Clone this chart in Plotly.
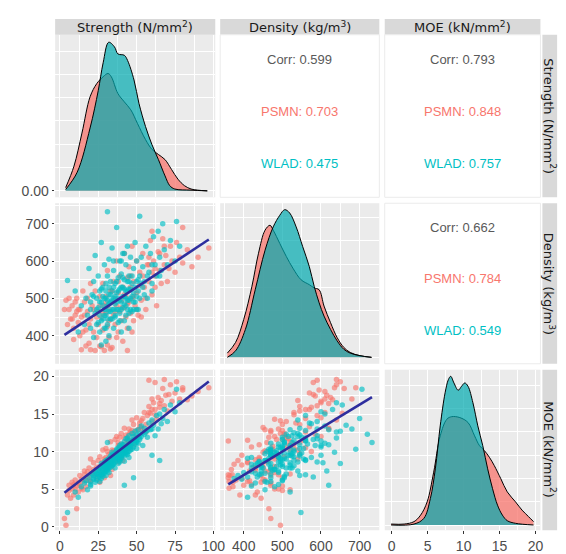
import plotly.graph_objects as go

W, H = 566, 554

# ---------------- data ----------------
psmn_strength = [3, 4, 5, 6, 7, 8, 9, 10, 11, 12,
                 13, 14, 15, 16, 17, 18, 19, 20, 21, 22,
                 23, 24, 25, 25, 26, 27, 27, 28, 28, 29,
                 29, 30, 30, 31, 31, 32, 32, 33, 33, 34,
                 34, 35, 35, 36, 36, 37, 37, 38, 38, 39,
                 39, 40, 40, 41, 41, 42, 42, 43, 43, 44,
                 44, 45, 45, 46, 46, 47, 47, 48, 48, 49,
                 50, 50, 51, 52, 53, 54, 55, 56, 57, 58,
                 59, 60, 61, 62, 63, 64, 65, 66, 67, 68,
                 69, 70, 72, 73, 75, 76, 78, 80, 83, 86,
                 90, 97, 33, 26, 58, 62, 11, 15, 44, 20,
                 60, 80, 68,
                 6, 8, 10, 12, 14, 16, 18, 20, 22, 24,
                 26, 28, 30, 32, 34, 36, 38, 40, 42, 44,
                 46, 48, 50, 52, 54, 56, 58, 60, 62, 65,
                 19, 23, 31, 37, 47, 9, 13, 17, 53, 71]
psmn_density = [470, 495, 430, 470, 445, 480, 420, 455, 500, 435,
                470, 362, 410, 455, 372, 500, 430, 362, 480, 410,
                520, 395, 465, 430, 505, 370, 448, 540, 415, 480,
                360, 460, 505, 425, 575, 470, 395, 520, 445, 490,
                368, 455, 545, 430, 500, 480, 600, 410, 515, 465,
                560, 440, 495, 530, 385, 475, 620, 505, 450, 555,
                420, 490, 585, 460, 530, 500, 640, 440, 545, 480,
                600, 515, 455, 570, 495, 620, 530, 470, 590, 545,
                655, 510, 600, 560, 480, 625, 575, 540, 660, 590,
                615, 545, 640, 600, 570, 650, 610, 595, 630, 585,
                610, 635, 364, 372, 590, 580, 465, 520, 360, 540,
                680, 690, 640,
                500, 445, 490, 470, 450, 490, 465, 445, 470, 450,
                480, 460, 490, 440, 520, 465, 545, 475, 510, 485,
                560, 505, 470, 535, 560, 500, 610, 570, 530, 620,
                380, 360, 375, 395, 410, 390, 400, 415, 450, 580]
psmn_moe = [1.1, 0.2, 4.2, 5.5, 3.8, 5.0, 5.6, 6.2, 5.4, 4.6,
            6.8, 5.1, 6.0, 7.4, 5.3, 6.5, 7.8, 6.0, 7.2, 8.5,
            7.0, 6.4, 8.8, 7.5, 9.3, 6.9, 8.1, 10.2, 7.4, 9.0,
            6.5, 8.7, 10.4, 7.9, 10.0, 9.6, 8.2, 11.3, 8.4, 9.3,
            7.6, 10.1, 9.7, 8.9, 11.6, 9.4, 12.0, 8.6, 10.8, 11.9,
            10.5, 9.2, 12.4, 11.0, 8.8, 10.3, 13.1, 12.2, 9.9, 11.5,
            10.6, 13.0, 12.3, 11.2, 10.4, 12.8, 14.2, 10.9, 13.6, 12.0,
            14.5, 11.7, 12.9, 13.3, 14.1, 13.0, 15.2, 12.6, 14.8, 16.0,
            15.1, 14.0, 16.5, 15.6, 14.3, 17.2, 15.9, 16.8, 18.4, 16.1,
            17.5, 15.4, 18.9, 16.7, 17.8, 19.3, 17.0, 18.2, 16.9, 17.4,
            18.0, 18.5, 6.8, 5.9, 19.5, 19.2, 2.4, 4.9, 11.4, 9.0,
            17.0, 18.5, 19.6,
            4.8, 5.9, 5.0, 5.8, 6.3, 6.9, 7.3, 6.8, 7.6, 7.9,
            8.0, 8.6, 9.2, 9.0, 10.2, 10.0, 11.2, 10.7, 11.8, 11.6,
            12.6, 12.4, 12.8, 13.8, 14.4, 13.6, 15.2, 15.6, 14.9, 16.4,
            6.2, 6.9, 8.3, 9.5, 11.5, 4.2, 5.5, 6.1, 13.2, 17.6]

wlad_strength = [5, 10, 12, 14, 16, 17, 18, 19, 20, 20,
                 21, 22, 22, 23, 23, 24, 24, 25, 25, 26,
                 26, 26, 27, 27, 27, 28, 28, 28, 29, 29,
                 29, 30, 30, 30, 30, 31, 31, 31, 31, 32,
                 32, 32, 32, 33, 33, 33, 34, 34, 34, 35,
                 35, 35, 36, 36, 36, 37, 37, 37, 38, 38,
                 38, 39, 39, 39, 40, 40, 40, 41, 41, 41,
                 42, 42, 42, 43, 43, 43, 44, 44, 44, 45,
                 45, 45, 46, 46, 47, 47, 48, 48, 48, 49,
                 49, 50, 50, 51, 51, 52, 52, 53, 54, 54,
                 55, 56, 57, 58, 59, 60, 60, 61, 62, 63,
                 64, 65, 65, 66, 67, 68, 70, 72, 75, 76,
                 78, 42,
                 24, 26, 27, 28, 29, 29, 30, 30, 31, 31,
                 32, 32, 33, 33, 34, 34, 35, 35, 36, 36,
                 37, 37, 38, 38, 39, 39, 40, 40, 41, 41,
                 42, 42, 43, 43, 44, 44, 45, 45, 46, 46,
                 47, 47, 48, 49, 50, 50, 51, 52, 53, 55,
                 22, 25, 27, 20, 57, 60, 35, 40, 45, 30]
wlad_density = [548, 520, 410, 480, 430, 500, 455, 580, 470, 420,
                510, 395, 545, 460, 615, 430, 500, 475, 560, 410,
                520, 455, 490, 650, 375, 530, 445, 505, 470, 590,
                420, 500, 540, 455, 385, 732, 480, 560, 430, 510,
                465, 605, 400, 490, 545, 445, 520, 470, 635, 500,
                420, 575, 485, 540, 450, 515, 690, 470, 555, 435,
                500, 525, 600, 460, 490, 565, 410, 530, 475, 620,
                505, 550, 440, 520, 590, 480, 545, 640, 495, 560,
                460, 525, 610, 500, 540, 465, 580, 515, 470, 490,
                650, 545, 600, 520, 470, 720, 560, 610, 530, 585,
                545, 640, 500, 570, 620, 540, 520, 665, 590, 560,
                680, 610, 560, 575, 700, 630, 590, 655, 600, 706,
                640, 620,
                470, 490, 440, 480, 500, 455, 520, 470, 495, 445,
                530, 485, 465, 510, 445, 495, 530, 470, 505, 455,
                490, 545, 470, 520, 495, 440, 530, 470, 505, 555,
                485, 525, 455, 500, 520, 470, 545, 495, 470, 525,
                505, 560, 490, 530, 505, 470, 550, 500, 540, 510,
                505, 435, 525, 490, 560, 590, 600, 600, 420, 420]
wlad_moe = [1.9, 4.6, 3.9, 5.3, 5.8, 6.1, 4.9, 6.6, 6.0, 5.4,
            7.0, 6.3, 6.8, 5.9, 7.4, 7.1, 6.2, 7.5, 6.9, 6.6,
            7.8, 6.0, 7.2, 8.4, 6.4, 8.1, 7.0, 6.7, 7.9, 8.6,
            7.3, 8.3, 7.4, 8.8, 6.8, 11.2, 7.6, 8.9, 8.2, 7.8,
            9.1, 8.5, 7.2, 8.6, 9.4, 7.9, 8.2, 9.6, 9.9, 8.9,
            8.3, 9.2, 9.8, 8.6, 7.8, 9.5, 10.3, 10.1, 9.0, 8.4,
            10.5, 9.7, 10.8, 8.8, 9.3, 11.0, 9.1, 10.2, 9.5, 10.9,
            11.3, 9.8, 8.7, 10.6, 11.7, 9.9, 10.4, 11.8, 9.6, 11.5,
            10.0, 12.1, 11.1, 10.7, 12.4, 10.3, 11.6, 12.0, 6.5, 11.0,
            12.7, 12.2, 11.4, 12.9, 11.1, 12.3, 11.8, 13.4, 12.5, 10.8,
            13.1, 12.6, 11.9, 13.8, 12.9, 14.2, 9.5, 13.5, 12.1, 14.8,
            13.0, 15.0, 8.8, 13.7, 14.4, 15.6, 14.0, 16.2, 15.3, 18.3,
            16.5, 5.5,
            7.0, 7.4, 6.9, 7.6, 8.0, 7.1, 8.5, 7.7, 8.2, 7.4,
            8.8, 8.0, 8.3, 9.0, 8.1, 8.7, 9.3, 8.4, 9.1, 8.8,
            9.2, 9.6, 9.4, 9.9, 9.0, 8.6, 10.0, 9.6, 9.8, 10.4,
            10.1, 9.4, 9.7, 10.3, 10.8, 9.9, 10.9, 10.5, 10.2, 11.2,
            11.0, 11.4, 10.6, 11.5, 11.2, 10.4, 11.9, 11.6, 12.0, 12.3,
            6.5, 6.6, 7.8, 5.6, 12.8, 13.0, 9.5, 10.6, 9.2, 7.8]

# kernel density curves (value per unit)
strength_grid_psmn = [3.8, 9.2, 14.4, 19.7, 24.0, 28.2, 31.4, 33.5, 37.8, 42.0, 46.2,
                      50.5, 55.8, 60.0, 64.2, 68.5, 72.7, 76.9, 81.2, 85.4, 89.7, 96.0]
strength_dens_psmn = [0.0007, 0.0053, 0.0124, 0.0202, 0.0230, 0.0245, 0.0252, 0.0245, 0.0209,
                      0.0191, 0.0174, 0.0145, 0.0110, 0.0089, 0.0078, 0.0067, 0.0046, 0.0025,
                      0.0011, 0.0004, 0.00015, 0.0]
strength_grid_wlad = [3.8, 11.3, 19.7, 25.0, 28.2, 31.8, 35.6, 37.8, 42.0, 44.1, 48.3, 51.5,
                      55.8, 60.0, 64.2, 68.5, 71.6, 74.8, 85.4, 96.0]
strength_dens_wlad = [0.0003, 0.0040, 0.0135, 0.0215, 0.0275, 0.0319, 0.0309, 0.0294, 0.0291,
                      0.0280, 0.0238, 0.0188, 0.0138, 0.0099, 0.0067, 0.0032, 0.0011, 0.0004,
                      0.00015, 0.0]

density_grid_psmn = [357.5, 378.9, 400.0, 421.2, 438.2, 455.2, 467.9, 476.3, 493.3, 510.2, 527.2,
                     548.4, 569.7, 582.4, 595.2, 607.9, 624.7, 641.7, 658.8, 675.6, 701.0, 730.8]
density_dens_psmn = [0.00018, 0.00064, 0.00163, 0.00305, 0.00447, 0.00546, 0.00567, 0.00546,
                     0.00489, 0.00433, 0.00383, 0.00333, 0.00312, 0.00298, 0.0029, 0.0022,
                     0.00149, 0.00085, 0.00043, 0.00021, 0.00007, 0.0]
density_grid_wlad = [357.5, 378.9, 404.3, 429.7, 455.2, 476.3, 493.3, 506.1, 518.8, 535.7, 552.7,
                     569.7, 582.4, 595.2, 607.9, 624.7, 641.7, 658.8, 675.6, 701.0, 730.8]
density_dens_wlad = [0.0, 0.00028, 0.0012, 0.0029, 0.0046, 0.0056, 0.0061, 0.00634, 0.0062,
                     0.0056, 0.00475, 0.0039, 0.00305, 0.00234, 0.00177, 0.0012, 0.00071,
                     0.00035, 0.00018, 0.00007, 0.0]

moe_grid_psmn = [-0.09, 1.72, 3.09, 4.01, 4.92, 5.83, 6.74, 7.66, 8.34, 9.47, 10.61, 11.52,
                 12.21, 12.89, 13.58, 14.26, 15.17, 16.07, 17.22, 18.12, 19.04, 19.72]
moe_dens_psmn = [0.001, 0.001, 0.0036, 0.0106, 0.0248, 0.0567, 0.0957, 0.1135, 0.1163, 0.1153,
                 0.110, 0.0957, 0.0851, 0.0798, 0.0727, 0.0638, 0.0497, 0.0355, 0.0248, 0.016,
                 0.0089, 0.0036]
moe_grid_wlad = [-0.09, 3.09, 4.46, 5.37, 6.06, 6.74, 7.42, 7.87, 8.2, 8.65, 9.24, 9.71, 10.16,
                 10.61, 11.29, 11.97, 12.66, 13.34, 14.02, 14.71, 15.39, 16.07, 17.22, 19.72]
moe_dens_wlad = [0.0, 0.001, 0.0071, 0.0284, 0.0603, 0.1064, 0.1419, 0.156, 0.1596, 0.1525,
                 0.1447, 0.1489, 0.1525, 0.1489, 0.1312, 0.1064, 0.0851, 0.0603, 0.039, 0.0213,
                 0.0106, 0.0046, 0.0018, 0.0]

# correlation labels for the upper panels: (S-D, S-M, D-M)
corr_overall = ["0.599", "0.793", "0.662"]
corr_psmn = ["0.703", "0.848", "0.784"]
corr_wlad = ["0.475", "0.757", "0.549"]

# fitted linear trends (intercept, slope)
fit_sd = (393.9, 2.72)
fit_sm = (4.04, 0.1577)
fit_dm = (-5.65, 0.0313)

var_titles = ["Strength (N/mm<sup>2</sup>)", "Density (kg/m<sup>3</sup>)", "MOE (kN/mm<sup>2</sup>)"]
strength_ticks = [0, 25, 50, 75, 100]
strength_minor = [12.5, 37.5, 62.5, 87.5]
density_ticks = [400, 500, 600, 700]
density_minor = [350, 450, 550, 650, 750]
moe_ticks = [0, 5, 10, 15, 20]
moe_minor = [2.5, 7.5, 12.5, 17.5]

C_PSMN = "#F8766D"
C_WLAD = "#00BFC4"
FILL_PSMN = "rgba(248,118,109,0.75)"
FILL_WLAD = "rgba(0,170,175,0.70)"
LINE_BLUE = "#2E2E9E"

# ---------------- layout geometry (pixels) ----------------
cols = [(48, 211), (216, 378), (383.5, 542)]
rows = [(26, 190), (196, 358), (364, 526)]


def dx(c):
    return [c[0] / W, c[1] / W]


def dy(r):
    return [1 - r[1] / H, 1 - r[0] / H]


TICKFONT = dict(family="Liberation Sans, Arial, sans-serif", size=14, color="#4D4D4D")


def axis(domain, rng, major, minor, labels, anchor, ticktext=None):
    d = dict(domain=domain, range=rng, anchor=anchor, tickmode="array", tickvals=major,
             showgrid=True, gridcolor="white", gridwidth=1.1, zeroline=False,
             showticklabels=labels, ticks="outside" if labels else "", ticklen=2.5,
             tickcolor="#333333", tickwidth=1, tickfont=TICKFONT, showline=False,
             minor=dict(tickmode="array", tickvals=minor, showgrid=True,
                        gridcolor="white", gridwidth=0.6, ticks=""))
    if ticktext is not None:
        d["ticktext"] = ticktext
    return d


S_RANGE = [-3.05, 101.2]
D_XRANGE = [339, 751]
D_YRANGE = [324.7, 755]
M_XRANGE = [-0.98, 20.68]
M_YRANGE = [-0.48, 20.91]
sS = 0.01 / 47
DS_RANGE = [-(190 - 183.5) * sS, (183.5 - 26) * sS]
sD = 0.002 / 47
DD_RANGE = [-(358 - 351.5) * sD, (351.5 - 196) * sD]
sM = 0.05 / 47
DM_RANGE = [-(526 - 520.7) * sM, (520.7 - 364) * sM]

fig = go.Figure()


def add_density(xs, ys, fill, xa, ya):
    fig.add_trace(go.Scatter(x=xs, y=ys, mode="lines", fill="tozeroy", fillcolor=fill,
                             line=dict(color="black", width=1, shape="spline"),
                             xaxis=xa, yaxis=ya, hoverinfo="skip"))


add_density(strength_grid_psmn, strength_dens_psmn, FILL_PSMN, "x", "y")
add_density(strength_grid_wlad, strength_dens_wlad, FILL_WLAD, "x", "y")
add_density(density_grid_psmn, density_dens_psmn, FILL_PSMN, "x3", "y3")
add_density(density_grid_wlad, density_dens_wlad, FILL_WLAD, "x3", "y3")
add_density(moe_grid_psmn, moe_dens_psmn, FILL_PSMN, "x6", "y6")
add_density(moe_grid_wlad, moe_dens_wlad, FILL_WLAD, "x6", "y6")

# scatter panels
scatter_specs = [
    ("x2", "y2", psmn_strength, psmn_density, wlad_strength, wlad_density, fit_sd),
    ("x4", "y4", psmn_strength, psmn_moe, wlad_strength, wlad_moe, fit_sm),
    ("x5", "y5", psmn_density, psmn_moe, wlad_density, wlad_moe, fit_dm),
]
for xa, ya, px_, py_, wx_, wy_, fit in scatter_specs:
    fig.add_trace(go.Scatter(x=px_, y=py_, mode="markers", xaxis=xa, yaxis=ya,
                             marker=dict(color=C_PSMN, size=5.5, opacity=0.65, line=dict(width=0)),
                             hoverinfo="skip"))
    fig.add_trace(go.Scatter(x=wx_, y=wy_, mode="markers", xaxis=xa, yaxis=ya,
                             marker=dict(color=C_WLAD, size=5.5, opacity=0.65, line=dict(width=0)),
                             hoverinfo="skip"))
    allx = px_ + wx_
    lx = [min(allx), max(allx)]
    ly = [fit[0] + fit[1] * v for v in lx]
    fig.add_trace(go.Scatter(x=lx, y=ly, mode="lines", xaxis=xa, yaxis=ya,
                             line=dict(color=LINE_BLUE, width=2.6), hoverinfo="skip"))

layout_axes = dict(
    xaxis=axis(dx(cols[0]), S_RANGE, strength_ticks, strength_minor, False, "y"),
    yaxis=axis(dy(rows[0]), DS_RANGE, [0], [0.005, 0.01, 0.015, 0.02, 0.025, 0.03], True, "x",
               ticktext=["0.00"]),
    xaxis2=axis(dx(cols[0]), S_RANGE, strength_ticks, strength_minor, False, "y2"),
    yaxis2=axis(dy(rows[1]), D_YRANGE, density_ticks, density_minor, True, "x2"),
    xaxis3=axis(dx(cols[1]), D_XRANGE, density_ticks, density_minor, False, "y3"),
    yaxis3=axis(dy(rows[1]), DD_RANGE, [0, 0.002, 0.004, 0.006], [0.001, 0.003, 0.005], False, "x3"),
    xaxis4=axis(dx(cols[0]), S_RANGE, strength_ticks, strength_minor, True, "y4"),
    yaxis4=axis(dy(rows[2]), M_YRANGE, moe_ticks, moe_minor, True, "x4"),
    xaxis5=axis(dx(cols[1]), D_XRANGE, density_ticks, density_minor, True, "y5"),
    yaxis5=axis(dy(rows[2]), M_YRANGE, moe_ticks, moe_minor, False, "x5"),
    xaxis6=axis(dx(cols[2]), M_XRANGE, moe_ticks, moe_minor, True, "y6"),
    yaxis6=axis(dy(rows[2]), DM_RANGE, [0, 0.05, 0.1, 0.15], [0.025, 0.075, 0.125], False, "x6"),
)

shapes = []
annotations = []
STRIPFONT = dict(family="DejaVu Sans, Verdana, sans-serif", size=13, color="#1A1A1A")

# top strips
for c, title in zip(cols, var_titles):
    shapes.append(dict(type="rect", xref="paper", yref="paper", x0=c[0] / W, x1=c[1] / W,
                       y0=1 - 26 / H, y1=1 - 10 / H, fillcolor="#D9D9D9", line=dict(width=0),
                       layer="below"))
    annotations.append(dict(x=(c[0] + c[1]) / 2 / W, y=1 - 18 / H, xref="paper", yref="paper",
                            text=title, showarrow=False, font=STRIPFONT,
                            xanchor="center", yanchor="middle"))
# right strips
for r, title in zip(rows, var_titles):
    shapes.append(dict(type="rect", xref="paper", yref="paper", x0=544 / W, x1=559 / W,
                       y0=1 - r[1] / H, y1=1 - r[0] / H, fillcolor="#D9D9D9", line=dict(width=0),
                       layer="below"))
    annotations.append(dict(x=551.5 / W, y=1 - (r[0] + r[1]) / 2 / H, xref="paper", yref="paper",
                            text=title, showarrow=False, font=STRIPFONT, textangle=90,
                            xanchor="center", yanchor="middle"))

# upper (correlation) panels
upper_cells = [(0, 1, 0), (0, 2, 1), (1, 2, 2)]  # (row, col, pair index)
CORRFONT = "Liberation Sans, Arial, sans-serif"
for ri, ci, k in upper_cells:
    c, r = cols[ci], rows[ri]
    shapes.append(dict(type="rect", xref="paper", yref="paper", x0=c[0] / W, x1=c[1] / W,
                       y0=1 - r[1] / H, y1=1 - r[0] / H, fillcolor="white",
                       line=dict(color="#EBEBEB", width=1), layer="below"))
    xc = (c[0] + c[1]) / 2 / W
    h = r[1] - r[0]
    for frac, txt, col in ((0.15, "Corr: " + corr_overall[k], "#595959"),
                           (0.47, "PSMN: " + corr_psmn[k], C_PSMN),
                           (0.795, "WLAD: " + corr_wlad[k], C_WLAD)):
        annotations.append(dict(x=xc, y=1 - (r[0] + frac * h) / H, xref="paper", yref="paper",
                                text=txt, showarrow=False,
                                font=dict(family=CORRFONT, size=13, color=col),
                                xanchor="center", yanchor="middle"))

fig.update_layout(
    width=W, height=H, margin=dict(l=0, r=0, t=0, b=0),
    paper_bgcolor="white", plot_bgcolor="#EBEBEB", showlegend=False,
    shapes=shapes, annotations=annotations, **layout_axes,
)

fig.write_html("out.html")
